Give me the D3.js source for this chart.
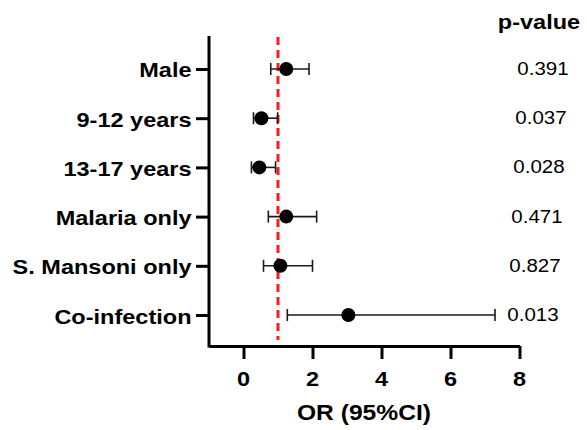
<!DOCTYPE html>
<meta charset="utf-8">
<script src="https://d3js.org/d3.v7.min.js"></script>
<style>
  body { margin: 0; background: #fff; }
  text { font-family: "Liberation Sans", Arial, sans-serif; }
</style>
<div id="forest"></div>
<script>

  // data
  var groups = ["Male", "9-12 years", "13-17 years", "Malaria only", "S. Mansoni only", "Co-infection"];
  var oddsRatio = [1.24, 0.52, 0.46, 1.24, 1.07, 3.04];
  var ciLow = [0.79, 0.29, 0.23, 0.72, 0.58, 1.27];
  var ciHigh = [1.90, 0.99, 0.93, 2.12, 2.00, 7.29];
  var pValues = ["0.391", "0.037", "0.028", "0.471", "0.827", "0.013"];
  var xTicks = [0, 2, 4, 6, 8];

  var W = 587, H = 430;
  var sx = 1.12; // the original text is slightly stretched horizontally

  var svg = d3.select("#forest").append("svg")
    .attr("width", W)
    .attr("height", H);

  var x = d3.scaleLinear().domain([-1, 8]).range([209, 519.5]);
  var y = d3.scalePoint().domain(groups).range([37, 347]).padding(0.65);
  var axisY = 346;

  // reference line at OR = 1
  svg.append("line")
    .attr("x1", x(1)).attr("x2", x(1))
    .attr("y1", 37).attr("y2", 340)
    .attr("stroke", "#ff1a1a")
    .attr("stroke-width", 3)
    .attr("stroke-dasharray", "8,5");

  // X axis
  var gx = svg.append("g")
    .attr("transform", "translate(0," + axisY + ")")
    .call(d3.axisBottom(x).tickValues(xTicks).tickSize(13).tickSizeOuter(0).tickFormat(""));
  gx.select(".domain").attr("stroke-width", 3).attr("stroke", "#000");
  gx.selectAll(".tick line").attr("stroke-width", 3).attr("stroke", "#000");

  // Y axis
  var gy = svg.append("g")
    .attr("transform", "translate(" + x(-1) + ",0)")
    .call(d3.axisLeft(y).tickSize(13).tickSizeOuter(0).tickFormat(""));
  gy.select(".domain").attr("d", "M0,36V" + (axisY + 1.5)).attr("stroke-width", 3).attr("stroke", "#000");
  gy.selectAll(".tick line").attr("stroke-width", 3).attr("stroke", "#000");

  // x tick labels
  svg.selectAll(".xlab")
    .data(xTicks)
    .enter().append("text")
    .attr("transform", function (d) { return "translate(" + x(d) + ",386) scale(" + sx + ",1)"; })
    .attr("text-anchor", "middle")
    .style("font-size", "21px")
    .style("font-weight", "bold")
    .text(function (d) { return d; });

  // y category labels
  svg.selectAll(".ylab")
    .data(groups)
    .enter().append("text")
    .attr("transform", function (d) { return "translate(191.5," + (y(d) + 8.5) + ") scale(" + sx + ",1)"; })
    .attr("text-anchor", "end")
    .style("font-size", "21px")
    .style("font-weight", "bold")
    .text(function (d) { return d; });

  // X axis title
  svg.append("text")
    .attr("transform", "translate(364,420) scale(" + sx + ",1)")
    .attr("text-anchor", "middle")
    .style("font-size", "22px")
    .style("font-weight", "bold")
    .text("OR (95%CI)");

  // error bars
  var rows = svg.selectAll(".row")
    .data(groups)
    .enter().append("g")
    .attr("transform", function (d) { return "translate(0," + y(d) + ")"; });

  rows.append("line")
    .attr("x1", function (d, i) { return x(ciLow[i]); })
    .attr("x2", function (d, i) { return x(ciHigh[i]); })
    .attr("stroke", "#1a1a1a").attr("stroke-width", 1.6);
  rows.append("line")
    .attr("x1", function (d, i) { return x(ciLow[i]); })
    .attr("x2", function (d, i) { return x(ciLow[i]); })
    .attr("y1", -6).attr("y2", 6)
    .attr("stroke", "#1a1a1a").attr("stroke-width", 1.6);
  rows.append("line")
    .attr("x1", function (d, i) { return x(ciHigh[i]); })
    .attr("x2", function (d, i) { return x(ciHigh[i]); })
    .attr("y1", -6).attr("y2", 6)
    .attr("stroke", "#1a1a1a").attr("stroke-width", 1.6);
  rows.append("circle")
    .attr("cx", function (d, i) { return x(oddsRatio[i]); })
    .attr("r", 7)
    .attr("fill", "#000");

  // p-value column
  svg.append("text")
    .attr("transform", "translate(539,29) scale(" + sx + ",1)")
    .attr("text-anchor", "middle")
    .style("font-size", "21px")
    .style("font-weight", "bold")
    .text("p-value");

  rows.append("text")
    .attr("transform", function (d, i) { return "translate(" + (543 - i * 2) + ",6) scale(1.08,1)"; })
    .attr("text-anchor", "middle")
    .style("font-size", "19px")
    .text(function (d, i) { return pValues[i]; });

</script>
